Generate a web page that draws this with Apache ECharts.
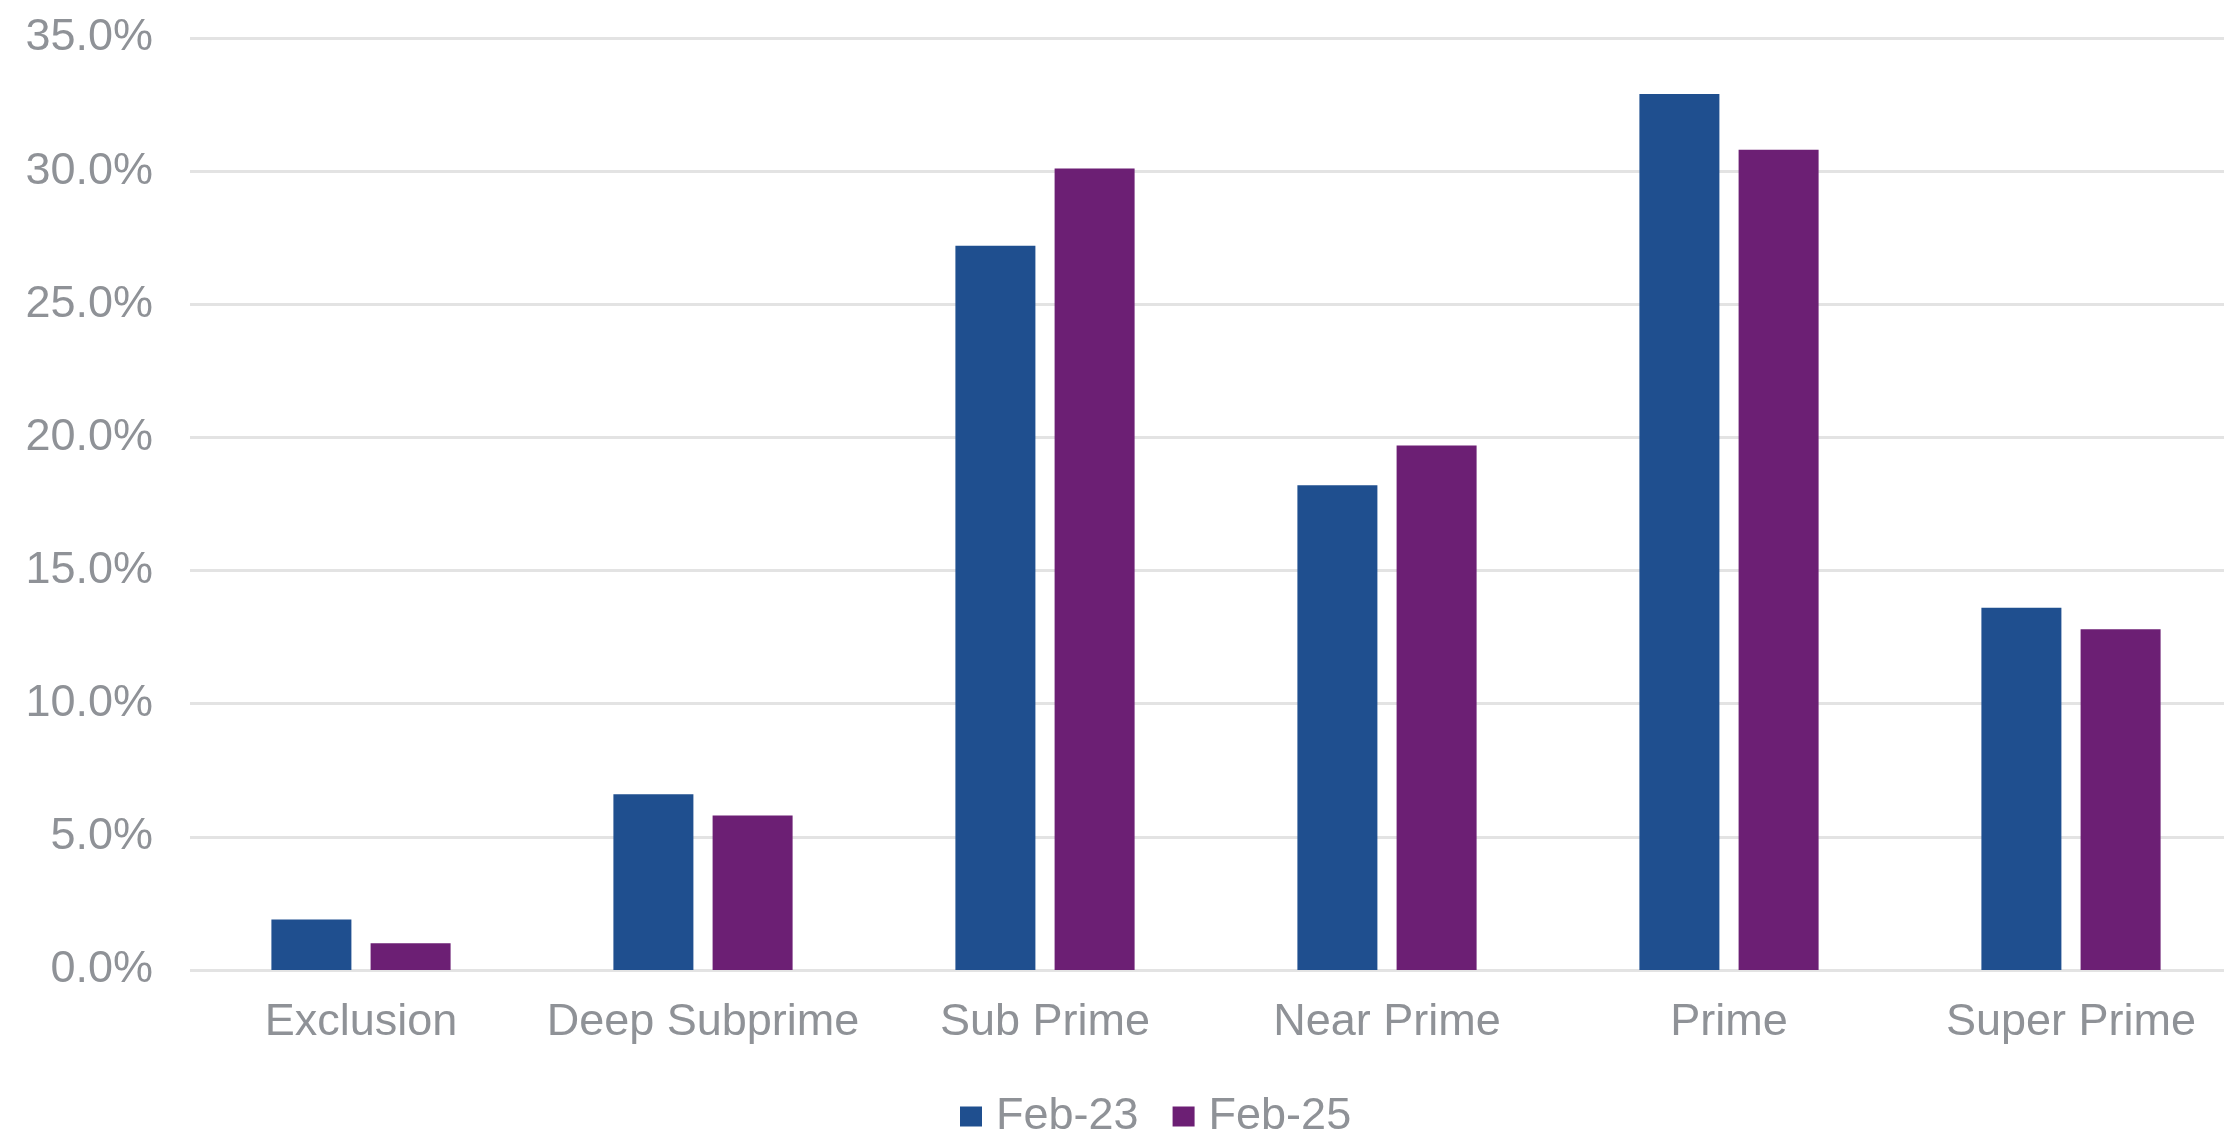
<!DOCTYPE html>
<html>
<head>
<meta charset="utf-8">
<script src="https://cdn.jsdelivr.net/npm/echarts@6/dist/echarts.min.js"></script>
<style>
html,body{margin:0;padding:0;background:#fff;}
#chart{width:2224px;height:1138px;}
</style>
</head>
<body>
<div id="chart"></div>
<script>
const categories = ["Exclusion", "Deep Subprime", "Sub Prime", "Near Prime", "Prime", "Super Prime"];
const seriesNames = ["Feb-23", "Feb-25"];
const feb23 = [1.9, 6.6, 27.2, 18.2, 32.9, 13.6];
const feb25 = [1.0, 5.8, 30.1, 19.7, 30.8, 12.8];
const yTicks = [0, 5, 10, 15, 20, 25, 30, 35];

const textColor = '#8f9297';
const font = '"Liberation Sans", Arial, sans-serif';

const chart = echarts.init(document.getElementById('chart'), null, {renderer: 'canvas'});
chart.setOption({
  animation: false,
  backgroundColor: '#ffffff',
  grid: {left: 190, right: -18, top: 38, bottom: 168, containLabel: false, outerBoundsMode: 'none'},
  legend: {
    data: seriesNames,
    left: 960, top: 1094, padding: 0,
    icon: 'rect', itemWidth: 22, itemHeight: 20, itemGap: 34,
    textStyle: {color: textColor, fontSize: 45, fontFamily: font, lineHeight: 44, padding: [0, 0, 0, 9]}
  },
  xAxis: {
    type: 'category',
    data: categories,
    axisLine: {show: false},
    axisTick: {show: false},
    axisLabel: {color: textColor, fontSize: 45, fontFamily: font, margin: 30, interval: 0}
  },
  yAxis: {
    type: 'value',
    min: yTicks[0], max: yTicks[yTicks.length - 1], interval: 5,
    axisLine: {show: false},
    axisTick: {show: false},
    splitLine: {lineStyle: {color: '#e3e3e3', width: 3}},
    axisLabel: {color: textColor, fontSize: 45, fontFamily: font, margin: 37,
      formatter: v => v.toFixed(1) + '%'}
  },
  series: [
    {name: seriesNames[0], type: 'bar', data: feb23, barWidth: 80, barGap: '24%',
     itemStyle: {color: '#1f4f8f'}},
    {name: seriesNames[1], type: 'bar', data: feb25, barWidth: 80, barGap: '24%',
     itemStyle: {color: '#6c1f74'}}
  ]
});
</script>
</body>
</html>
